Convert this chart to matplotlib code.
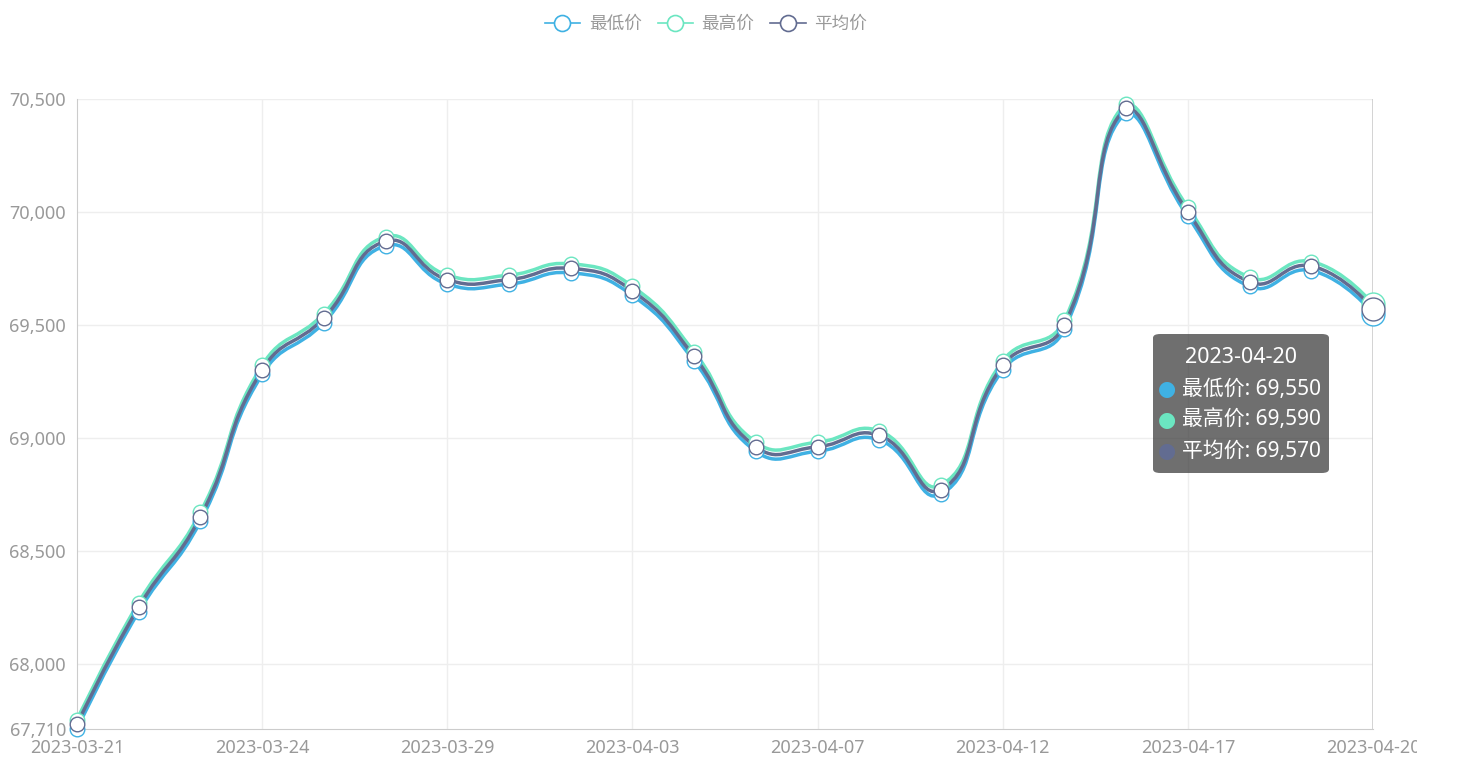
import numpy as np
import matplotlib
matplotlib.use('Agg')
import matplotlib.pyplot as plt
from matplotlib.path import Path
from matplotlib.patches import PathPatch, FancyBboxPatch
from matplotlib.lines import Line2D
from matplotlib.ticker import FuncFormatter
from matplotlib.transforms import Bbox

plt.rcParams['font.family'] = ['Noto Sans', 'Noto Sans CJK SC', 'DejaVu Sans']

# Dates on the category axis
dates = ['2023-03-21', '2023-03-22', '2023-03-23', '2023-03-24', '2023-03-27',
         '2023-03-28', '2023-03-29', '2023-03-30', '2023-03-31', '2023-04-03',
         '2023-04-04', '2023-04-06', '2023-04-07', '2023-04-10', '2023-04-11',
         '2023-04-12', '2023-04-13', '2023-04-14', '2023-04-17', '2023-04-18',
         '2023-04-19', '2023-04-20']

low_price = [67710, 68230, 68630, 69280, 69510, 69850, 69680, 69680, 69730, 69630,
             69340, 68940, 68940, 68990, 68750, 69300, 69480, 70440, 69980, 69670,
             69740, 69550]
high_price = [67750, 68270, 68670, 69320, 69550, 69890, 69720, 69720, 69770, 69670,
              69380, 68980, 68980, 69030, 68790, 69340, 69520, 70480, 70020, 69710,
              69780, 69590]
avg_price = [67730, 68250, 68650, 69300, 69530, 69870, 69700, 69700, 69750, 69650,
             69360, 68960, 68960, 69010, 68770, 69320, 69500, 70460, 70000, 69690,
             69760, 69570]

series_names = ['最低价', '最高价', '平均价']
series_colors = ['#3fb1e3', '#6be6c1', '#626c91']
y_ticks = [67710, 68000, 68500, 69000, 69500, 70000, 70500]
label_every = 3
hover_idx = len(dates) - 1

W, H = 1458, 768
fig = plt.figure(figsize=(W / 100, H / 100), dpi=100)
L, R, T, B = 77, 1373, 99, 729
ax = fig.add_axes([L / W, 1 - B / H, (R - L) / W, (B - T) / H])
ax.set_xlim(0, len(dates) - 1)
ax.set_ylim(y_ticks[0], y_ticks[-1])


def px(x, y):
    # pixel position (from top-left) -> figure fraction
    return x / W, 1 - y / H


def smooth_path(xs, ys, smooth=0.5):
    # bezier smoothing like echarts 4, computed in screen pixels
    pts = ax.transData.transform(np.column_stack([xs, ys]))
    n = len(pts)
    lo, hi = pts.min(axis=0), pts.max(axis=0)
    cps = [pts[0]]
    for i in range(1, n - 1):
        p, prev, nxt = pts[i], pts[i - 1], pts[i + 1]
        v = (nxt - prev) * smooth
        d0 = np.hypot(*(p - prev))
        d1 = np.hypot(*(p - nxt))
        s = d0 + d1
        cps.append(np.clip(p - v * d0 / s, lo, hi))
        cps.append(np.clip(p + v * d1 / s, lo, hi))
    cps.append(pts[-1])
    verts = [pts[0]]
    codes = [Path.MOVETO]
    for i in range(n - 1):
        verts += [cps[2 * i], cps[2 * i + 1], pts[i + 1]]
        codes += [Path.CURVE4] * 3
    data_verts = ax.transData.inverted().transform(np.array(verts))
    return Path(data_verts, codes)


# grid
for yv in y_ticks[1:]:
    ax.axhline(yv, color='#eeeeee', lw=1, zorder=0)
for xi in range(label_every, len(dates) - 1, label_every):
    ax.axvline(xi, color='#eeeeee', lw=1, zorder=0)

for sp in ['top', 'right']:
    ax.spines[sp].set_visible(False)
ax.spines['left'].set_color('#cccccc')
ax.spines['bottom'].set_color('#cccccc')
ax.spines['left'].set_zorder(1)
ax.spines['bottom'].set_zorder(1)
# axis pointer line at the hovered date
ax.axvline(hover_idx, color='#cccccc', lw=1.2, zorder=1)

xs = np.arange(len(dates))
all_series = [low_price, high_price, avg_price]
for k, (vals, col) in enumerate(zip(all_series, series_colors)):
    path = smooth_path(xs, vals)
    ax.add_patch(PathPatch(path, facecolor='none', edgecolor=col, lw=2.5,
                           zorder=2 + k, capstyle='round', joinstyle='round',
                           clip_on=False))
for k, (vals, col) in enumerate(zip(all_series, series_colors)):
    ax.plot(xs[:-1], vals[:-1], ls='none', marker='o', ms=10.5, mfc='white',
            mec=col, mew=1.0, zorder=5 + k, clip_on=False)
    ax.plot(xs[-1:], vals[-1:], ls='none', marker='o', ms=16.5, mfc='white',
            mec=col, mew=1.0, zorder=5 + k, clip_on=False)

ax.set_yticks(y_ticks)
ax.yaxis.set_major_formatter(FuncFormatter(lambda v, p: f'{int(v):,}'))
ax.set_xticks(xs[::label_every])
ax.set_xticklabels(dates[::label_every])
ax.tick_params(axis='both', length=0, labelsize=13, colors='#999999')
ax.tick_params(axis='y', pad=8)
ax.tick_params(axis='x', pad=7)

# the last date label is cut at the canvas edge
last_lab = ax.get_xticklabels()[-1]
last_lab.set_clip_box(Bbox([[0, 0], [1417, H]]))
last_lab.set_clip_on(True)

# legend
handles = [Line2D([0], [0], color=c, lw=1.2, marker='o', ms=11.5, mfc='white',
                  mec=c, mew=1.2) for c in series_colors]
fig.legend(handles, series_names, loc='center', bbox_to_anchor=px(706, 24),
           ncol=3, frameon=False, fontsize=12.7, labelcolor='#999999',
           handlelength=2.0, handletextpad=0.5, columnspacing=0.9)

# tooltip
bx0, by0, bx1, by1 = 1153, 334, 1329, 473
fx0, fy1 = px(bx0, by0)
fx1, fy0 = px(bx1, by1)
fig.patches.append(FancyBboxPatch((fx0, fy0), fx1 - fx0, fy1 - fy0,
                                  boxstyle='round,pad=0,rounding_size=0.005',
                                  transform=fig.transFigure, facecolor='#323232',
                                  alpha=0.7, edgecolor='none', zorder=10))
fig.text(*px(1241, 358), dates[hover_idx], color='white', fontsize=15.5,
         ha='center', va='center', zorder=11)
for k, (name, vals, col) in enumerate(zip(series_names, all_series, series_colors)):
    yrow = 389 + 31 * k
    fig.text(*px(1167, yrow), '●', color=col, fontsize=15, ha='center',
             va='center', zorder=11, family='DejaVu Sans')
    fig.text(*px(1182, yrow), f'{name}: {vals[hover_idx]:,}', color='white',
             fontsize=15, ha='left', va='center', zorder=11)

fig.savefig('out.png', dpi=100)
